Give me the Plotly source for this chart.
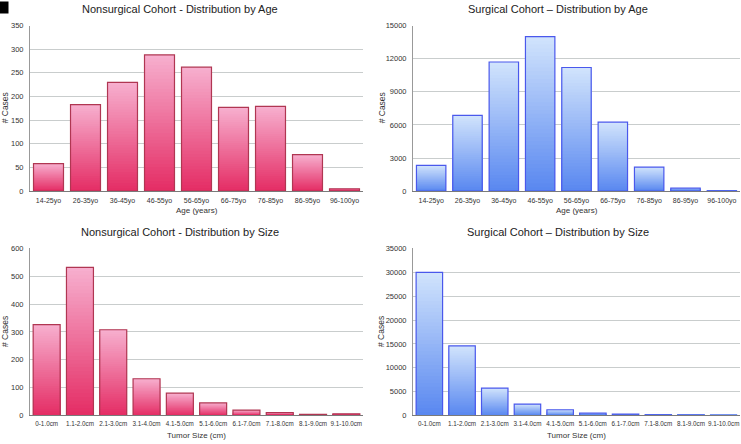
import plotly.graph_objects as go
import numpy as np

# ---------------- data ----------------
age_labels = ["14-25yo", "26-35yo", "36-45yo", "46-55yo", "56-65yo",
              "66-75yo", "76-85yo", "86-95yo", "96-100yo"]
size_labels = ["0-1.0cm", "1.1-2.0cm", "2.1-3.0cm", "3.1-4.0cm", "4.1-5.0cm",
               "5.1-6.0cm", "6.1-7.0cm", "7.1-8.0cm", "8.1-9.0cm", "9.1-10.0cm"]

nonsurg_age = [58, 183, 230, 288, 262, 177, 179, 77, 5]
surg_age = [2330, 6870, 11700, 14000, 11200, 6250, 2180, 270, 20]
nonsurg_size = [326, 532, 308, 132, 80, 45, 19, 10, 4, 6]
surg_size = [30000, 14600, 5750, 2400, 1200, 500, 300, 150, 60, 30]

titles = ["Nonsurgical Cohort - Distribution by Age",
          "Surgical Cohort \u2013 Distribution by Age",
          "Nonsurgical Cohort - Distribution by Size",
          "Surgical Cohort \u2013 Distribution by Size"]
x_titles = ["Age (years)", "Age (years)", "Tumor Size (cm)", "Tumor Size (cm)"]
y_title = "# Cases"

# ---------------- style ----------------
W, H = 741, 444
FONT = "Liberation Sans, Arial, Helvetica, sans-serif"
PINK = dict(top=(247, 176, 207), bottom=(228, 44, 100), line="#b03652")
BLUE = dict(top=(210, 228, 252), bottom=(88, 135, 240), line="#4a58ec")
N_SEG = 40


def px_x(p):
    return p / W


def px_y(p):
    return 1 - p / H


panels = [
    dict(cats=age_labels, vals=nonsurg_age, pal=PINK, rng=[0, 350], dtick=50, xfs=7,
         xd=[30, 363], yd=[22, 191], title_xy=(180, -2), xt_y=211, yt_x=5),
    dict(cats=age_labels, vals=surg_age, pal=BLUE, rng=[0, 15000], dtick=3000, xfs=7,
         xd=[413, 740], yd=[22, 191], title_xy=(558, -2), xt_y=211, yt_x=382),
    dict(cats=size_labels, vals=nonsurg_size, pal=PINK, rng=[0, 600], dtick=100, xfs=6.3,
         xd=[30, 363], yd=[249.5, 420], title_xy=(180, 226), xt_y=440, yt_x=5),
    dict(cats=size_labels, vals=surg_size, pal=BLUE, rng=[0, 35000], dtick=5000, xfs=6.3,
         xd=[413, 740], yd=[249.5, 420], title_xy=(558, 226), xt_y=440, yt_x=381),
]

fig = go.Figure()
annotations = []
layout_axes = {}


def mix(c0, c1, t):
    r = [round(a + (b - a) * t) for a, b in zip(c0, c1)]
    return "rgb(%d,%d,%d)" % tuple(r)


for i, p in enumerate(panels):
    n = i + 1
    xa = "x" if n == 1 else "x%d" % n
    ya = "y" if n == 1 else "y%d" % n
    vals = np.array(p["vals"], dtype=float)
    # gradient: overlaid bars, full height (light) first, shorter (darker) on top
    for k in range(N_SEG):
        frac_top = (N_SEG - k) / N_SEG
        t = (N_SEG - k - 0.5) / N_SEG  # band centre (0 bottom, 1 top)
        col = mix(p["pal"]["bottom"], p["pal"]["top"], t)
        fig.add_trace(go.Bar(x=p["cats"], y=vals * frac_top, xaxis=xa, yaxis=ya,
                             marker=dict(color=col, line=dict(width=0)),
                             hoverinfo="skip", showlegend=False))
    # outline
    fig.add_trace(go.Bar(x=p["cats"], y=vals, xaxis=xa, yaxis=ya,
                         marker=dict(color="rgba(0,0,0,0)",
                                     line=dict(color=p["pal"]["line"], width=1.2)),
                         showlegend=False, name=titles[i]))

    xkey = "xaxis" if n == 1 else "xaxis%d" % n
    ykey = "yaxis" if n == 1 else "yaxis%d" % n
    layout_axes[xkey] = dict(domain=[px_x(p["xd"][0]), px_x(p["xd"][1])], anchor=ya,
                             showline=True, linecolor="#7a7a7a", linewidth=1,
                             ticks="", showgrid=False, tickangle=0,
                             ticklabelstandoff=2,
                             tickfont=dict(family=FONT, size=p["xfs"], color="#333"),
                             categoryorder="array", categoryarray=p["cats"])
    layout_axes[ykey] = dict(domain=[px_y(p["yd"][1]), px_y(p["yd"][0])], anchor=xa,
                             range=p["rng"], dtick=p["dtick"], tick0=0,
                             tickformat="d",
                             showline=True, linecolor="#999", linewidth=1,
                             showgrid=True, gridcolor="#c9cdcd", gridwidth=1,
                             zeroline=False, ticks="",
                             ticklabelstandoff=4,
                             tickfont=dict(family=FONT, size=7.5, color="#333"))

    annotations.append(dict(text=titles[i], xref="paper", yref="paper",
                            x=px_x(p["title_xy"][0]), y=px_y(p["title_xy"][1]),
                            xanchor="center", yanchor="top", showarrow=False,
                            borderpad=0,
                            font=dict(family=FONT, size=11, color="#222")))
    annotations.append(dict(text=x_titles[i], xref="paper", yref="paper",
                            x=px_x((p["xd"][0] + p["xd"][1]) / 2), y=px_y(p["xt_y"]),
                            xanchor="center", yanchor="middle", showarrow=False,
                            font=dict(family=FONT, size=8, color="#333")))
    annotations.append(dict(text=y_title, xref="paper", yref="paper",
                            x=px_x(p["yt_x"]), y=px_y((p["yd"][0] + p["yd"][1]) / 2),
                            xanchor="center", yanchor="middle", showarrow=False,
                            textangle=-90,
                            font=dict(family=FONT, size=8.5, color="#333")))

# panel letter, partially cropped in the corner
annotations.append(dict(text="<b>B</b>", xref="paper", yref="paper", x=px_x(-1), y=px_y(-3),
                        xanchor="left", yanchor="top", showarrow=False,
                        bgcolor="#000", borderpad=0,
                        font=dict(family="DejaVu Sans, Arial", size=10, color="#000")))

fig.update_layout(width=W, height=H, margin=dict(l=0, r=0, t=0, b=0),
                  paper_bgcolor="white", plot_bgcolor="white",
                  barmode="overlay", bargap=0.19,
                  annotations=annotations, **layout_axes)

fig.write_html("out.html", config={"displayModeBar": False},
               post_script="document.body.style.margin='0';"
                           "document.body.style.overflow='hidden';")
